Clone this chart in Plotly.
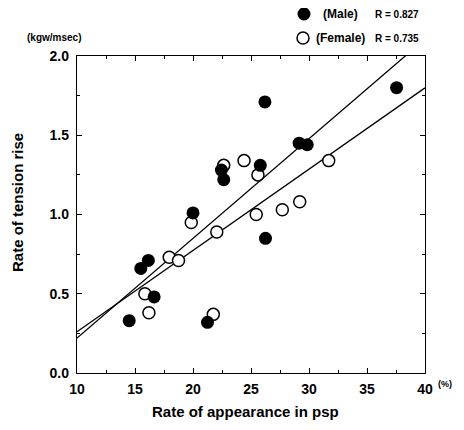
import plotly.graph_objects as go

# --- data ---
male_x = [14.5, 15.5, 16.15, 16.65, 20.0, 21.25, 22.45, 22.65, 25.8, 26.2, 26.25, 29.15, 29.85, 37.55]
male_y = [0.33, 0.66, 0.71, 0.48, 1.01, 0.32, 1.28, 1.22, 1.31, 1.71, 0.85, 1.45, 1.44, 1.80]

female_x = [15.85, 16.2, 17.95, 18.75, 19.85, 21.75, 22.05, 22.65, 24.4, 25.45, 25.6, 27.7, 29.2, 31.7]
female_y = [0.50, 0.38, 0.73, 0.71, 0.95, 0.37, 0.89, 1.31, 1.34, 1.00, 1.25, 1.03, 1.08, 1.34]

# regression lines (slope, intercept) as drawn
male_fit = (0.0629, -0.409)
female_fit = (0.0513, -0.253)
male_r = "0.827"
female_r = "0.735"

x_ticks = [10, 15, 20, 25, 30, 35, 40]
y_ticks = [0.0, 0.5, 1.0, 1.5, 2.0]
x_range = [10, 40]
y_range = [0, 2]

FONT = "Liberation Sans, Arial, sans-serif"

fig = go.Figure()

line_x = [x_range[0], x_range[1]]
for slope, icpt in (male_fit, female_fit):
    fig.add_trace(go.Scatter(
        x=line_x, y=[icpt + slope * v for v in line_x],
        mode="lines", line=dict(color="black", width=1.3),
        showlegend=False, hoverinfo="skip"))

fig.add_trace(go.Scatter(
    x=female_x, y=female_y, mode="markers", name="(Female)",
    marker=dict(symbol="circle", size=12, color="white",
                line=dict(color="black", width=1.5)),
    showlegend=False, cliponaxis=False))
fig.add_trace(go.Scatter(
    x=male_x, y=male_y, mode="markers", name="(Male)",
    marker=dict(symbol="circle", size=13, color="black",
                line=dict(color="black", width=0)),
    showlegend=False, cliponaxis=False))

axis_common = dict(
    showline=True, linecolor="black", linewidth=1.3, mirror="ticks",
    ticks="inside", ticklen=5, tickwidth=1, tickcolor="black",
    showgrid=False, zeroline=False,
    tickfont=dict(family=FONT, size=14, color="black", weight="bold"),
)

fig.update_xaxes(range=x_range, tickvals=x_ticks, ticktext=[str(v) for v in x_ticks],
                 minor=dict(dtick=2.5, ticklen=3, tickcolor="black", ticks="inside"),
                 ticklabelstandoff=3, **axis_common)
fig.update_yaxes(range=y_range, tickvals=y_ticks, ticktext=[f"{v:.1f}" for v in y_ticks],
                 minor=dict(dtick=0.25, ticklen=3, tickcolor="black", ticks="inside"),
                 ticklabelstandoff=4, **axis_common)

# page has an 8px body margin; work in page pixels, convert to figure
OX, OY = 8, 8
W, H = 464 - OX, 430 - OY
PL, PR, PT, PB = 77, 425, 56, 373  # plot area in page pixels
L, T = PL - OX, PT - OY
R, B = W - (PR - OX), H - (PB - OY)
pw, ph = PR - PL, PB - PT


def px(x):
    return (x - PL) / pw


def py(y):
    return (PB - y) / ph


def ann(text, x, y, size, **kw):
    fig.add_annotation(text=text, x=px(x), y=py(y), xref="paper", yref="paper",
                       showarrow=False, xanchor="center", yanchor="middle",
                       font=dict(family=FONT, size=size, color="black", weight="bold"), **kw)


# legend
for cx, cy, fill, r, lw in ((304, 14, "black", 6.5, 0), (303, 38, "white", 6, 1.5)):
    fig.add_shape(type="circle", xref="paper", yref="paper",
                  xsizemode="pixel", ysizemode="pixel",
                  xanchor=px(cx), yanchor=py(cy), x0=-r, x1=r, y0=-r, y1=r,
                  fillcolor=fill, line=dict(color="black", width=lw))

ann("(Male)", 340, 14, 12)
ann("(Female)", 340, 38, 12)
ann(f"R = {male_r}", 397, 15, 10)
ann(f"R = {female_r}", 397, 39, 10)
ann("(kgw/msec)", 54, 38, 10)
ann("(%)", 445, 384, 9)
ann("Rate of appearance in psp", 245, 412, 15)
ann("Rate of tension rise", 17, 202, 15, textangle=-90)

fig.update_layout(
    width=W, height=H,
    margin=dict(l=L, r=R, t=T, b=B),
    paper_bgcolor="white", plot_bgcolor="white",
    showlegend=False,
)

fig.write_html("out.html")
